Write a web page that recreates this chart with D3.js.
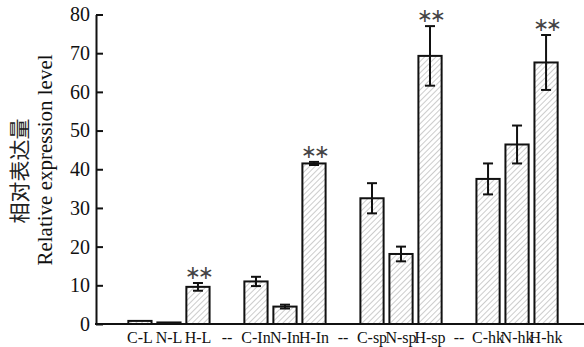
<!DOCTYPE html>
<html>
<head>
<meta charset="utf-8">
<script src="https://cdn.jsdelivr.net/npm/d3@7"></script>
<style>
  html, body { margin: 0; padding: 0; background: #fff; }
  svg { display: block; }
</style>
</head>
<body>
<svg id="chart" width="584" height="347"></svg>
<script>
// Sample groups; "--" marks the empty spacer slots between tissues
const categories = ["C-L", "N-L", "H-L", "--", "C-In", "N-In", "H-In", "--",
                    "C-sp", "N-sp", "H-sp", "--", "C-hk", "N-hk", "H-hk"];
// Mean relative expression level (null = spacer, no bar)
const values = [0.8, 0.4, 9.6, null, 11.0, 4.5, 41.5, null,
                32.5, 18.1, 69.3, null, 37.5, 46.4, 67.6];
// Standard deviation for each bar
const errors = [0, 0, 1.0, null, 1.2, 0.5, 0.4, null,
                3.9, 1.9, 7.7, null, 4.0, 4.9, 7.1];
// Significance marks
const marks = ["", "", "**", "", "", "", "**", "", "", "", "**", "", "", "", "**"];
const yTicks = [0, 10, 20, 30, 40, 50, 60, 70, 80];

const serif = "Liberation Serif";
const svg = d3.select("#chart");
const x0 = 96, x1 = 590, yBottom = 324, yTop = 14.5;

const x = d3.scaleBand()
  .domain(d3.range(categories.length))
  .range([x0, x1])
  .paddingInner(0.2)
  .paddingOuter(1.115);

const y = d3.scaleLinear().domain([0, 80]).range([yBottom, yTop]);

// Diagonal hatching used as bar fill
const defs = svg.append("defs");
const pat = defs.append("pattern")
  .attr("id", "hatch")
  .attr("patternUnits", "userSpaceOnUse")
  .attr("width", 4).attr("height", 4)
  .attr("patternTransform", "rotate(45)");
pat.append("rect").attr("width", 4).attr("height", 4).attr("fill", "#fff");
pat.append("line")
  .attr("x1", 0).attr("y1", 0).attr("x2", 0).attr("y2", 4)
  .attr("stroke", "#9a9a9a").attr("stroke-width", 1);

const data = categories.map((c, i) => ({ i, c, v: values[i], e: errors[i], m: marks[i] }))
  .filter(d => d.v !== null);

// Bars
svg.append("g").selectAll("rect")
  .data(data)
  .join("rect")
  .attr("x", d => x(d.i))
  .attr("width", x.bandwidth())
  .attr("y", d => y(d.v))
  .attr("height", d => y(0) - y(d.v))
  .attr("fill", "url(#hatch)")
  .attr("stroke", "#111")
  .attr("stroke-width", 2);

// Error bars
const eb = svg.append("g").attr("stroke", "#111").attr("stroke-width", 2)
  .selectAll("g").data(data.filter(d => d.e > 0)).join("g");
const cx = d => x(d.i) + x.bandwidth() / 2;
eb.append("line")
  .attr("x1", cx).attr("x2", cx)
  .attr("y1", d => y(d.v + d.e)).attr("y2", d => y(d.v - d.e));
eb.append("line")
  .attr("x1", d => cx(d) - 5).attr("x2", d => cx(d) + 5)
  .attr("y1", d => y(d.v + d.e)).attr("y2", d => y(d.v + d.e));
eb.append("line")
  .attr("x1", d => cx(d) - 5).attr("x2", d => cx(d) + 5)
  .attr("y1", d => y(d.v - d.e)).attr("y2", d => y(d.v - d.e));

// Significance asterisks
svg.append("g").selectAll("text")
  .data(data.filter(d => d.m))
  .join("text")
  .attr("x", cx)
  .attr("y", d => y(d.v + d.e) - 10)
  .attr("dy", "0.32em")
  .attr("text-anchor", "middle")
  .attr("font-family", "DejaVu Sans")
  .attr("font-size", 19)
  .attr("fill", "#444")
  .attr("letter-spacing", -3)
  .text("∗∗");

// Y axis, ticks pointing inward
const yAxis = svg.append("g")
  .attr("transform", `translate(${x0},0)`)
  .call(d3.axisLeft(y).tickValues(yTicks).tickSizeInner(-7).tickSizeOuter(0).tickPadding(6));
yAxis.attr("font-family", serif);
yAxis.selectAll("text").attr("font-family", serif).attr("font-size", 20).attr("fill", "#111");
yAxis.selectAll("line, path").attr("stroke", "#111").attr("stroke-width", 2);

// X axis with category labels
const xAxis = svg.append("g")
  .attr("transform", `translate(0,${yBottom})`)
  .call(d3.axisBottom(x).tickFormat(i => categories[i]).tickSize(0).tickPadding(8));
xAxis.attr("font-family", serif);
xAxis.select(".domain").attr("d", `M${x0 - 1},0H584`);
xAxis.selectAll("text").attr("font-family", serif).attr("font-size", 16).attr("fill", "#111");
xAxis.selectAll("path").attr("stroke", "#111").attr("stroke-width", 2);

// Y axis title (two lines)
svg.append("text")
  .attr("transform", "translate(27,171) rotate(-90)")
  .attr("text-anchor", "middle")
  .attr("font-family", "Noto Sans CJK SC")
  .attr("font-size", 21)
  .attr("fill", "#222")
  .text("相对表达量");
svg.append("text")
  .attr("transform", "translate(52,160) rotate(-90)")
  .attr("text-anchor", "middle")
  .attr("font-family", serif)
  .attr("font-size", 21)
  .attr("fill", "#111")
  .text("Relative expression level");
</script>
</body>
</html>
